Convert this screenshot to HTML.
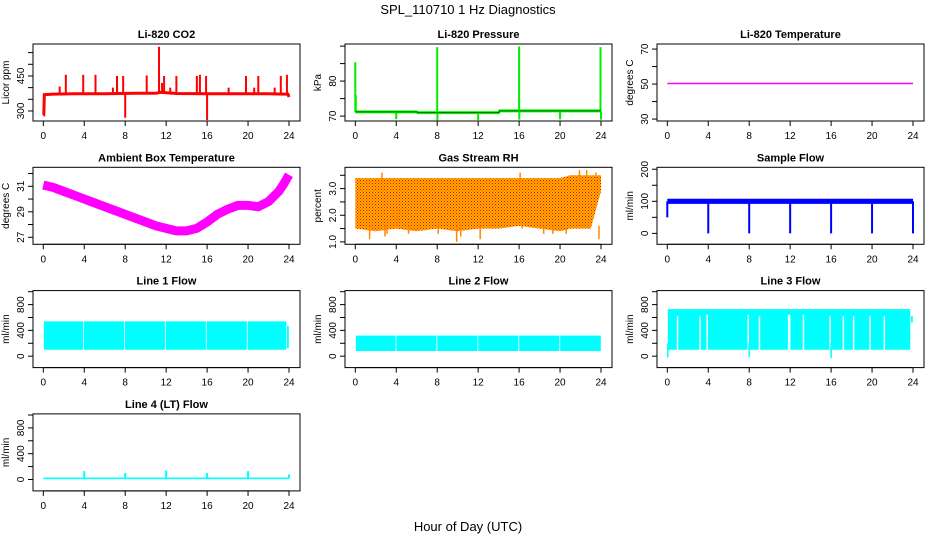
<!DOCTYPE html>
<html><head><meta charset="utf-8"><style>
html,body{margin:0;padding:0;background:#fff}
svg{display:block;font-family:"Liberation Sans",Arial,sans-serif}
</style></head><body>
<svg id="chart" width="936" height="540" viewBox="0 0 936 540">
<defs>
<pattern id="rhpat" width="3" height="3" patternUnits="userSpaceOnUse"><rect width="3" height="3" fill="#ffb000"/><rect x="0" y="0" width="1" height="1" fill="#ff0000"/><rect x="1.5" y="1.5" width="1" height="1" fill="#ff2000"/></pattern>
</defs>
<text x="468" y="14" text-anchor="middle" font-size="13">SPL_110710  1 Hz Diagnostics</text>
<text x="468" y="531" text-anchor="middle" font-size="13">Hour of Day (UTC)</text>
</svg>
<script>
// ---- data ----
const xTicks = [0,4,8,12,16,20,24];
const co2BaseHours = [0,0.05,0.1,1,3,6,9,11,11.5,12,13,16,19,22,23.5,23.9,24];
const co2BaseValues = [283,283,370,372,374,374,376,376,380,378,375,374,374,374,372,372,360];
const co2SpikeHours = [1.6,2.2,3.9,5.1,6.8,7.2,7.8,8.0,10.1,11.3,11.6,11.8,12.4,13.0,15.0,15.3,15.9,16.0,18.1,19.8,20.6,21.0,22.6,23.2,23.8];
const co2SpikeValues = [405,455,455,455,400,450,450,271,452,575,420,450,400,450,450,455,450,261,400,450,400,450,400,450,455];
const pressBaseHours = [0,6,6.1,14,14.1,24];
const pressBaseValues = [71.2,71.2,71.0,71.0,71.5,71.5];
const pressSpikeHours = [0,0.05,4,8,8.02,12,16,16.02,20,23.95,24];
const pressSpikeValues = [85.4,76,69.1,89.7,68.8,68.9,89.9,69.0,69.1,89.7,69];
const tempHours = [0,24];
const tempValues = [50.3,50.3];
const ambHours = [0,1,2,3,4,5,6,7,8,9,10,11,12,13,14,15,16,17,18,19,20,21,22,23,23.5,24];
const ambValues = [31.1,30.9,30.6,30.3,30.0,29.7,29.4,29.1,28.8,28.5,28.2,27.9,27.7,27.5,27.5,27.7,28.2,28.8,29.2,29.5,29.5,29.4,29.8,30.6,31.2,31.9];
const rhHours = [0,2,4,6,8,10,12,14,16,18,20,21,22,23,24];
const rhHigh = [3.4,3.4,3.4,3.4,3.4,3.4,3.4,3.4,3.4,3.4,3.4,3.5,3.5,3.5,3.5];
const rhLow = [1.5,1.4,1.5,1.4,1.5,1.4,1.5,1.5,1.6,1.5,1.4,1.5,1.5,1.5,2.9];
const rhDipHours = [1.4,2.9,3.1,4.1,5.2,8.1,9.9,10.3,12.2,16.3,18.4,19.3,20.6,23.8];
const rhDipValues = [1.1,1.2,1.3,2.1,1.3,1.3,1.0,1.2,1.1,1.5,1.3,1.3,1.3,1.1];
const rhPeakHours = [2.6,16.1,21.9,22.6,23.5];
const rhPeakValues = [3.6,3.6,3.7,3.7,3.6];
const sampleBaseLow = [92,92];
const sampleBaseHigh = [108,108];
const sampleDipHours = [0,4,8,12,16,20,24];
const sampleDipValues = [50,0,0,0,0,0,0];
const l1GapHours = [3.9,7.9,11.9,15.9,19.9,23.75];
const l1Highs = [540,540,540,540,540,540,470];
const l1Lows = [100,100,100,100,100,100,120];
const l2GapHours = [3.95,7.95,11.95,15.95,19.95];
const l2Highs = [320,320,320,320,320,320];
const l2Lows = [80,80,80,80,80,80];
const l3GapHours = [23.75];
const l3Highs = [730,620];
const l3Lows = [100,520];
const l3NotchHours = [1.0,3.2,3.9,7.9,9.0,11.85,11.95,13.3,15.9,17.2,18.2,19.8,21.2];
const l3NotchTops = [620,620,640,640,620,640,640,640,620,620,620,620,620];
const l3DipHours = [0.05,8.0,16.0];
const l3DipValues = [-20,-20,-30];
const l4SpikeHours = [4,8,12,16,20,24];
const l4SpikeValues = [130,100,140,100,130,80];

// ---- drawing ----
const svg = document.getElementById('chart');
const NS = 'http://www.w3.org/2000/svg';
function mk(tag, attrs, parent){
  const e = document.createElementNS(NS, tag);
  for (const k in attrs) e.setAttribute(k, attrs[k]);
  (parent||svg).appendChild(e);
  return e;
}
function panel(col,row,title,ylab,ymin,ymax,ticks,labels){
  const L = 33+312*col, R = 300+312*col, T = 44+123.3*row, B = T+77;
  const g = mk('g',{});
  
  
  const xs = h => L+10.3+h*(245.7/24);
  const ys = v => B-(v-ymin)/(ymax-ymin)*(B-T);
  const box = mk('rect',{x:L,y:T,width:R-L,height:B-T,fill:'none',stroke:'#000','stroke-width':1},g);
  
  
  const tt = mk('text',{x:(L+R)/2,y:T-6,'text-anchor':'middle','font-size':11,'font-weight':'bold'},g);
  tt.textContent = title;
  
  
  const xa = mk('g',{},g);
  
  
  mk('line',{x1:xs(0),x2:xs(24),y1:B,y2:B,stroke:'#000'},xa);
  xTicks.forEach(t=>{
    mk('line',{x1:xs(t),x2:xs(t),y1:B,y2:B+5,stroke:'#000'},xa);
    const tx = mk('text',{x:xs(t),y:B+18,'text-anchor':'middle','font-size':10},xa);
    tx.textContent = t;
  });
  const ya = mk('g',{},g);
  
  
  mk('line',{x1:L,x2:L,y1:ys(ticks[0]),y2:ys(ticks[ticks.length-1]),stroke:'#000'},ya);
  ticks.forEach(t=>{mk('line',{x1:L-5,x2:L,y1:ys(t),y2:ys(t),stroke:'#000'},ya);});
  labels.forEach(t=>{
    const tx = mk('text',{x:L-9,y:ys(t),'text-anchor':'middle','font-size':10,transform:`rotate(-90 ${L-9} ${ys(t)})`},ya);
    tx.textContent = t;
  });
  const yl = mk('text',{x:L-24,y:(T+B)/2,'text-anchor':'middle','font-size':10,transform:`rotate(-90 ${L-24} ${(T+B)/2})`},g);
  yl.textContent = ylab;
  
  
  const clip = 'c'+col+'_'+row;
  const cp = mk('clipPath',{id:clip},g); mk('rect',{x:L,y:T,width:R-L,height:B-T},cp);
  const d = mk('g',{'clip-path':`url(#${clip})`},g);
  
  
  return {xs,ys,d};
}
function line(p,hs,vs,color,w){
  mk('polyline',{points:hs.map((h,i)=>p.xs(h)+','+p.ys(vs[i])).join(' '),fill:'none',stroke:color,'stroke-width':w},p.d);
}
function spikes(p,hs,vs,base,color,w){
  hs.forEach((h,i)=>mk('line',{x1:p.xs(h),x2:p.xs(h),y1:p.ys(base),y2:p.ys(vs[i]),stroke:color,'stroke-width':w},p.d));
}
function bands(p,gaps,lows,highs,color){
  const edges=[0.05].concat(gaps).concat([24]);
  for(let i=0;i<edges.length-1;i++){
    const a=edges[i]+(i?0.06:0), b=edges[i+1]-0.02;
    mk('rect',{x:p.xs(a),y:p.ys(highs[i]),width:Math.max(1,p.xs(b)-p.xs(a)),height:p.ys(lows[i])-p.ys(highs[i]),fill:color},p.d);
  }
}
// CO2
let p = panel(0,0,'Li-820 CO2','Licor ppm',257,587,[300,350,400,450,500,550],[300,450]);
spikes(p,co2SpikeHours,co2SpikeValues,374,'#ff0000',2);
line(p,co2BaseHours,co2BaseValues,'#ff0000',3);
// Pressure
p = panel(1,0,'Li-820 Pressure','kPa',68.6,90.6,[70,75,80,85,90],[70,80]);
spikes(p,pressSpikeHours,pressSpikeValues,71.2,'#00ee00',2);
line(p,pressBaseHours,pressBaseValues,'#00ff00',3);
line(p,pressBaseHours,pressBaseValues,'#006000',1);
// Temperature
p = panel(2,0,'Li-820 Temperature','degrees C',28.9,72.9,[30,40,50,60,70],[30,50,70]);
line(p,tempHours,tempValues,'#ff00ff',1.5);
// Ambient
p = panel(0,1,'Ambient Box Temperature','degrees C',26.45,32.49,[27,28,29,30,31,32],[27,29,31]);
line(p,ambHours,ambValues,'#ff00ff',9);
// RH
p = panel(1,1,'Gas Stream RH','percent',0.91,3.8,[1.0,1.5,2.0,2.5,3.0,3.5],['1.0','2.0','3.0']);
mk('polygon',{points:rhHours.map((h,i)=>p.xs(h)+','+p.ys(rhHigh[i])).concat(rhHours.slice().reverse().map((h,i)=>p.xs(h)+','+p.ys(rhLow[rhHours.length-1-i]))).join(' '),fill:'url(#rhpat)'},p.d);
spikes(p,rhDipHours,rhDipValues,1.6,'#ff8800',1.5);
spikes(p,rhPeakHours,rhPeakValues,3.3,'#ff8800',1.5);
// Sample flow
p = panel(2,1,'Sample Flow','ml/min',-34,206,[0,50,100,150,200],[0,100,200]);
mk('rect',{x:p.xs(0),y:p.ys(sampleBaseHigh[0]),width:p.xs(24)-p.xs(0),height:p.ys(sampleBaseLow[0])-p.ys(sampleBaseHigh[0]),fill:'#0000ff'},p.d);
spikes(p,sampleDipHours,sampleDipValues,100,'#0000ff',2);
// Flows
p = panel(0,2,'Line 1 Flow','ml/min',-177,1017,[0,200,400,600,800,1000],[0,400,800]);
bands(p,l1GapHours,l1Lows,l1Highs,'#00ffff');
p = panel(1,2,'Line 2 Flow','ml/min',-177,1017,[0,200,400,600,800,1000],[0,400,800]);
bands(p,l2GapHours,l2Lows,l2Highs,'#00ffff');
p = panel(2,2,'Line 3 Flow','ml/min',-177,1017,[0,200,400,600,800,1000],[0,400,800]);
bands(p,l3GapHours,l3Lows,l3Highs,'#00ffff');
spikes(p,l3NotchHours,l3NotchTops,100,'#ffffff',1.5);
spikes(p,l3DipHours,l3DipValues,200,'#00ffff',1.5);
p = panel(0,3,'Line 4 (LT) Flow','ml/min',-177,1017,[0,200,400,600,800,1000],[0,400,800]);
mk('rect',{x:p.xs(0),y:p.ys(30),width:p.xs(24)-p.xs(0),height:p.ys(5)-p.ys(30),fill:'#00ffff'},p.d);
spikes(p,l4SpikeHours,l4SpikeValues,20,'#00ffff',2);
</script>
</body></html>
